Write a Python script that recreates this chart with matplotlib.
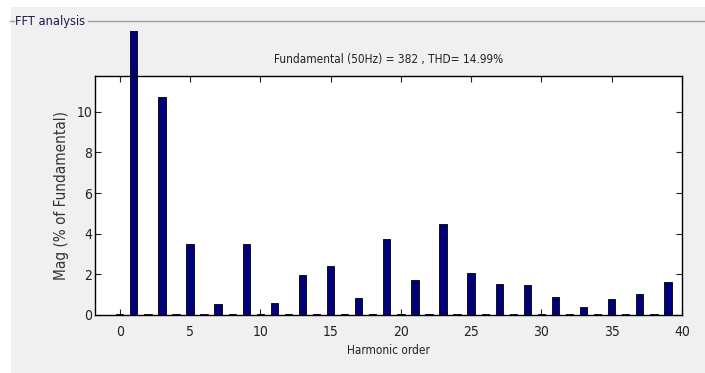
import matplotlib
matplotlib.use("Agg")
import matplotlib.pyplot as plt
from matplotlib.patches import Rectangle
from matplotlib.transforms import Bbox, TransformedBbox

# Harmonic spectrum, magnitude in % of the fundamental
harmonic_order = list(range(0, 40))
magnitude = [0.05, 100.0, 0.05, 10.7, 0.05, 3.47, 0.05, 0.53, 0.05, 3.47,
             0.05, 0.57, 0.05, 1.97, 0.05, 2.41, 0.05, 0.82, 0.05, 3.72,
             0.05, 1.72, 0.05, 4.49, 0.05, 2.05, 0.05, 1.52, 0.05, 1.46,
             0.05, 0.90, 0.05, 0.39, 0.05, 0.77, 0.05, 1.02, 0.05, 1.61]
x_ticks = [0, 5, 10, 15, 20, 25, 30, 35, 40]
y_ticks = [0, 2, 4, 6, 8, 10]
fundamental_hz = 50
fundamental_mag = 382
thd = 14.99

W, H = 705, 373
plt.rcParams['font.family'] = ['DejaVu Sans']
plt.rcParams['font.stretch'] = 'condensed'
fig = plt.figure(figsize=(W / 100, H / 100), dpi=100, facecolor='white')

def fx(px):
    return px / W

def fy(py):
    return 1 - py / H

# grey panel background
fig.patches.append(Rectangle((fx(11), 0), 1 - fx(11), fy(7), transform=fig.transFigure,
                             facecolor='#f0f0f0', edgecolor='none', zorder=-5))
# panel frame line with its title
fig.add_artist(plt.Line2D([fx(10), fx(14)], [fy(21), fy(21)], transform=fig.transFigure,
                          color='#a0a0a0', lw=1))
fig.add_artist(plt.Line2D([fx(88), 1], [fy(21), fy(21)], transform=fig.transFigure,
                          color='#a0a0a0', lw=1))
fig.text(fx(15), fy(21), 'FFT analysis', fontsize=9.2, color='#1a1a50', va='center', ha='left')

ax = fig.add_axes([fx(95), fy(315), fx(682) - fx(95), fy(75.7) - fy(315)])
ax.set_facecolor('white')

ymax = max(m for m in magnitude if m < 50) * 1.1
bars = ax.bar(harmonic_order, magnitude, width=0.52, color='#00007a',
              edgecolor='black', linewidth=0.6, zorder=2)

# the fundamental bar runs out of the axes, up to the panel edge
clip = TransformedBbox(Bbox([[0, 0], [1, fy(31)]]), fig.transFigure)
bars[1].set_clip_box(clip)

ax.set_xlim(-1.76, 40)
ax.set_ylim(0, ymax)
ax.set_xticks(x_ticks)
ax.set_yticks(y_ticks)
ax.tick_params(direction='in', length=4, width=0.8, top=True, right=True,
               labelsize=10, colors='#222222')
ax.tick_params(axis='x', pad=7)
ax.tick_params(axis='y', pad=2)
for s in ax.spines.values():
    s.set_linewidth(1.0)
    s.set_color('black')

ax.set_title(f'Fundamental ({fundamental_hz}Hz) = {fundamental_mag} , THD= {thd:.2f}%',
             fontsize=8.5, color='#222222', pad=9)
ax.set_xlabel('Harmonic order', fontsize=8.5, color='#222222', labelpad=4)
ax.set_ylabel('Mag (% of Fundamental)', fontsize=11, color='#333333', labelpad=5)

fig.savefig('out.png', dpi=100, facecolor='white')
